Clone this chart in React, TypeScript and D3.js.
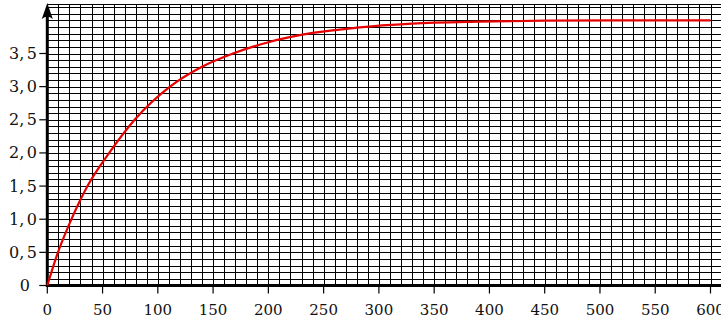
import * as d3 from "d3";

// temps (x) et valeur (y)
const tValues = [0, 9, 20, 36, 56, 79, 111, 140, 168, 200, 240, 280, 330, 390, 450, 520, 600];
const yValues = [0, 0.47, 0.93, 1.49, 2.0, 2.5, 3.0, 3.3, 3.5, 3.67, 3.81, 3.89, 3.95, 3.98, 3.995, 4.0, 4.0];

const xTicks = [0, 50, 100, 150, 200, 250, 300, 350, 400, 450, 500, 550, 600];
const yTicks = [0, 0.5, 1.0, 1.5, 2.0, 2.5, 3.0, 3.5];

const width = 721;
const height = 326;

export default function App() {
    const x = d3.scaleLinear().domain([0, 600]).range([47.3, 710.5]);
    const y = d3.scaleLinear().domain([0, 3.5]).range([285.5, 53.5]);

    const data = tValues.map((t, i) => ({ t, v: yValues[i] }));
    const line = d3.line<{ t: number; v: number }>()
        .x(d => x(d.t))
        .y(d => y(d.v))
        .curve(d3.curveMonotoneX);

    const vGrid = d3.range(10, 620, 10);
    const hGrid = d3.range(1, 43).map(k => k / 10);
    const gridTop = y(4.25);

    const crisp = (v: number) => Math.round(v) + 0.5;
    const fmt = (v: number) => (v === 0 ? ["0", ""] : v.toFixed(1).split("."));

    const x0 = x(0);
    const y0 = y(0);

    return (
        <svg
            width={width}
            height={height}
            style={{ position: "absolute", left: 0, top: 0, background: "#fff" }}
            fontFamily="'DejaVu Serif', serif"
        >
            {/* quadrillage */}
            <g stroke="#000" strokeWidth={1} shapeRendering="crispEdges">
                {vGrid.map(t => (
                    <line key={"v" + t} x1={crisp(x(t))} x2={crisp(x(t))} y1={y0} y2={gridTop} />
                ))}
                {hGrid.map(v => (
                    <line key={"h" + v} x1={x0} x2={width} y1={crisp(y(v))} y2={crisp(y(v))} />
                ))}
                <line x1={x0} x2={width} y1={crisp(gridTop)} y2={crisp(gridTop)} />
            </g>

            {/* graduations */}
            <g stroke="#000" strokeWidth={1.2}>
                {xTicks.map(t => (
                    <line key={"xt" + t} x1={x(t)} x2={x(t)} y1={y0} y2={y0 + 8} />
                ))}
                {yTicks.map(v => (
                    <line key={"yt" + v} x1={x0 - 8} x2={x0} y1={y(v)} y2={y(v)} />
                ))}
            </g>

            {/* axes */}
            <line x1={x0} x2={width} y1={y0} y2={y0} stroke="#000" strokeWidth={3} />
            <line x1={x0} x2={x0} y1={y0 + 1.5} y2={12} stroke="#000" strokeWidth={3} />
            <path
                d={`M${x0},3 L${x0 + 5.5},19 Q${x0},14 ${x0 - 5.5},19 Z`}
                fill="#000"
            />

            {/* courbe */}
            <path d={line(data) ?? ""} fill="none" stroke="#e60000" strokeWidth={2.2} />

            {/* étiquettes */}
            <g fill="#111">
                {xTicks.map(t => (
                    <text key={"xl" + t} x={x(t)} y={315} fontSize={15} textAnchor="middle">{t}</text>
                ))}
                {yTicks.map(v => {
                    const [a, b] = fmt(v);
                    return (
                        <text key={"yl" + v} x={v === 0 ? 30 : 37} y={y(v) + 5.5} fontSize={16} textAnchor="end">
                            {b ? <>{a},<tspan dx={2.5}>{b}</tspan></> : a}
                        </text>
                    );
                })}
            </g>
        </svg>
    );
}
